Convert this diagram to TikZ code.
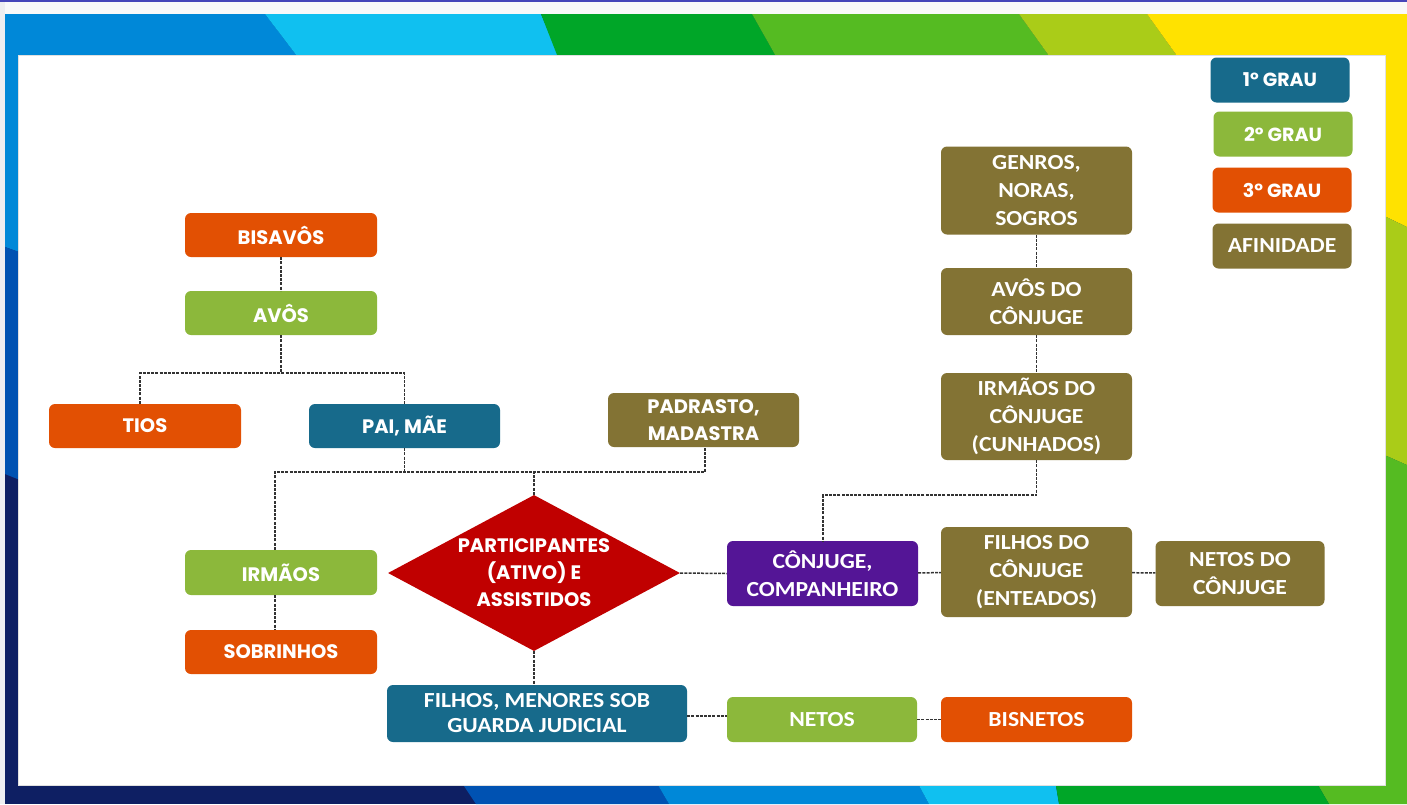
\documentclass[tikz,border=0pt]{standalone}
\usepackage{fontspec}
\setmainfont{Carlito}[FakeStretch=1.1]
\newfontfamily\geo{Poppins}
\usetikzlibrary{shapes.geometric}
\definecolor{cA}{HTML}{176A8B}
\definecolor{cB}{HTML}{8CB83B}
\definecolor{cC}{HTML}{E25003}
\definecolor{cD}{HTML}{837334}
\definecolor{cP}{HTML}{541596}
\definecolor{cR}{HTML}{C00000}
\definecolor{bgBlue}{HTML}{0088D8}
\definecolor{bgMid}{HTML}{0052B2}
\definecolor{bgNavy}{HTML}{0E1F63}
\definecolor{bgCyan}{HTML}{10C0F0}
\definecolor{bgGreen}{HTML}{00A628}
\definecolor{bgLGreen}{HTML}{55BB22}
\definecolor{bgYG}{HTML}{AACC18}
\definecolor{bgYel}{HTML}{FFE200}
\tikzset{
  box/.style={rounded corners=6pt, inner sep=0pt, text=white, align=center},
  geotxt/.style={font=\geo\bfseries\fontsize{19.5}{27}\selectfont},
  legtxt/.style={font=\geo\bfseries\fontsize{19}{22}\selectfont},
  caltxt/.style={font=\bfseries\fontsize{21.5}{28}\selectfont},
  conn/.style={draw=black!80, line width=1.5pt, dash pattern=on 3pt off 1.2pt},
}
\begin{document}
\begin{tikzpicture}[x=1pt,y=-1pt]
\useasboundingbox (0,0) rectangle (1407,804);
% frame background
\fill[gray!5] (0,0) rectangle (1407,14);
\fill[blue!8!gray!12] (0,0) rectangle (5,804);
\fill[blue!45!gray] (0,0) rectangle (1407,2);
\fill[bgNavy] (5,14) rectangle (1407,804);
\fill[bgBlue] (5,14) -- (265,14) -- (300,60) -- (30,60) -- (30,256) -- (5,247) -- cycle;
\fill[bgMid] (5,247) -- (30,256) -- (30,484) -- (5,474) -- cycle;
\fill[bgCyan] (265,14) -- (541,14) -- (560,60) -- (300,60) -- cycle;
\fill[bgGreen] (541,14) -- (752,14) -- (778,60) -- (559,60) -- cycle;
\fill[bgLGreen] (752,14) -- (1019,14) -- (1052,60) -- (778,60) -- cycle;
\fill[bgYG] (1019,14) -- (1147,14) -- (1180,60) -- (1052,60) -- cycle;
\fill[bgYel] (1147,14) -- (1407,14) -- (1407,227) -- (1380,214) -- (1380,60) -- (1180,60) -- cycle;
\fill[bgYG] (1380,214) -- (1407,227) -- (1407,465) -- (1380,453) -- cycle;
\fill[bgLGreen] (1380,453) -- (1407,465) -- (1407,804) -- (1329,804) -- (1315,780) -- (1380,780) -- cycle;
\fill[bgMid] (460,780) -- (655,780) -- (669,804) -- (476,804) -- cycle;
\fill[bgBlue] (655,780) -- (916,780) -- (929,804) -- (669,804) -- cycle;
\fill[bgCyan] (916,780) -- (1055,780) -- (1059,804) -- (929,804) -- cycle;
\fill[bgGreen] (1055,780) -- (1315,780) -- (1329,804) -- (1059,804) -- cycle;
\filldraw[fill=white, draw=black!12, line width=0.8pt] (18,55) rectangle (1385,785);

% legend
\node[box, fill=cA, minimum width=139pt, minimum height=45pt, legtxt] (l1) at (1280,80) {1º GRAU};
\node[box, fill=cB, minimum width=139pt, minimum height=45pt, legtxt] (l2) at (1283,134) {2º GRAU};
\node[box, fill=cC, minimum width=139pt, minimum height=45pt, legtxt] (l3) at (1282,190) {3º GRAU};
\node[box, fill=cD, minimum width=139pt, minimum height=45pt, caltxt] (l4) at (1282,246) {AFINIDADE};

% left tree
\node[box, fill=cC, minimum width=192pt, minimum height=44pt, geotxt] (bis) at (281,235) {BISAVÔS};
\node[box, fill=cB, minimum width=192pt, minimum height=44pt, geotxt] (avo) at (281,313) {AVÔS};
\node[box, fill=cC, minimum width=192pt, minimum height=44pt, geotxt] (tios) at (145,426) {TIOS};
\node[box, fill=cA, minimum width=191pt, minimum height=44pt, geotxt] (pai) at (404.5,426) {PAI, MÃE};
\node[box, fill=cD, minimum width=191pt, minimum height=54pt, geotxt] (pad) at (703.5,420) {PADRASTO,\\MADASTRA};
\node[box, fill=cB, minimum width=192pt, minimum height=45pt, geotxt] (irm) at (281,572.5) {IRMÃOS};
\node[box, fill=cC, minimum width=192pt, minimum height=44pt, geotxt] (sob) at (281,652) {SOBRINHOS};
\node[diamond, fill=cR, text=white, inner sep=0pt, minimum width=292pt, minimum height=156pt, aspect=1.87, align=center, geotxt] (dia) at (534,573) {PARTICIPANTES\\(ATIVO) E\\ASSISTIDOS};

% bottom row
\node[box, fill=cA, minimum width=300pt, minimum height=57pt, caltxt, font=\bfseries\fontsize{21.5}{25}\selectfont] (fil) at (537,713.5) {FILHOS, MENORES SOB\\GUARDA JUDICIAL};
\node[box, fill=cB, minimum width=190pt, minimum height=45pt, caltxt] (net) at (822,719.5) {NETOS};
\node[box, fill=cC, minimum width=191pt, minimum height=45pt, caltxt] (bisn) at (1036.5,719.5) {BISNETOS};

% right side (affinity)
\node[box, fill=cP, minimum width=191pt, minimum height=65pt, caltxt] (conj) at (822.5,573.5) {CÔNJUGE,\\COMPANHEIRO};
\node[box, fill=cD, minimum width=191pt, minimum height=90pt, caltxt] (filc) at (1036.5,572) {FILHOS DO\\CÔNJUGE\\(ENTEADOS)};
\node[box, fill=cD, minimum width=169pt, minimum height=65pt, caltxt] (netc) at (1240,573.5) {NETOS DO\\CÔNJUGE};
\node[box, fill=cD, minimum width=191pt, minimum height=87pt, caltxt] (irmc) at (1036.5,416.5) {IRMÃOS DO\\CÔNJUGE\\(CUNHADOS)};
\node[box, fill=cD, minimum width=191pt, minimum height=67pt, caltxt] (avoc) at (1036.5,301.5) {AVÔS DO\\CÔNJUGE};
\node[box, fill=cD, minimum width=191pt, minimum height=88pt, caltxt] (gen) at (1036.5,190.5) {GENROS,\\NORAS,\\SOGROS};

% connectors
\coordinate (ta) at (140,373);
\coordinate (tb) at (404.5,373);
\coordinate (ha) at (275,472);
\coordinate (hb) at (705,472);
\coordinate (ca) at (823,495);
\draw[conn] (bis) -- (avo);
\draw[conn] (avo.south) -- (avo.south |- ta);
\draw[conn] (tios.north -| ta) -- (ta) -- (tb) -- (pai.north -| tb);
\draw[conn] (pai.south) -- (pai.south |- ha);
\draw[conn] (irm.north -| ha) -- (ha) -- (hb) -- (pad.south -| hb);
\draw[conn] (dia.north) -- (dia.north |- ha);
\draw[conn] (irm.south -| ha) -- (sob.north -| ha);
\draw[conn] (dia.east) -- (conj.west);
\draw[conn] (dia.south) -- (fil.north -| dia.south);
\draw[conn] (fil.east |- 0,716) -- (net.west |- 0,716);
\draw[conn] (net) -- (bisn);
\draw[conn] (conj) -- (filc);
\draw[conn] (filc) -- (netc);
\draw[conn] (gen) -- (avoc);
\draw[conn] (avoc) -- (irmc);
\draw[conn] (irmc.south) |- (ca) -- (conj.north -| ca);
\end{tikzpicture}
\end{document}
